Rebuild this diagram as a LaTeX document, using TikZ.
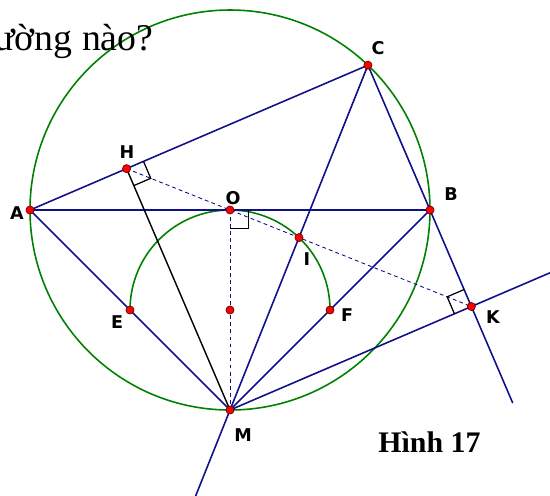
\documentclass[tikz,border=0pt]{standalone}
\usepackage{fontspec}
\setmainfont{Liberation Serif}
\newfontfamily\labfont{DejaVu Sans}
\usetikzlibrary{calc}
\definecolor{cLn}{HTML}{10108A}
\definecolor{cCi}{HTML}{008000}
\definecolor{cPt}{HTML}{FF0000}

\begin{document}
\begin{tikzpicture}[x=0.02cm,y=-0.02cm,
  ln/.style={cLn,line width=0.9pt},
  dsh/.style={cLn,line width=0.5pt,dash pattern=on 2.2pt off 1.8pt},
  crc/.style={cCi,line width=0.9pt},
  rt/.style={black,line width=0.7pt},
  pt/.style={circle,draw=red!45!black,fill=cPt,line width=0.4pt,inner sep=0pt,minimum size=4.6pt},
  lab/.style={font=\labfont\bfseries\fontsize{10}{12}\selectfont,inner sep=0pt}]
\clip (0,0) rectangle (550,495);
% ---------- points ----------
\coordinate (O) at (230,210);
\coordinate (A) at (30,210);
\coordinate (B) at (430,210);
\coordinate (C) at ($(O)+(-46.4:200)$);
\coordinate (M) at (230,410);
\coordinate (P) at (230,310);
\coordinate (E) at (130,310);
\coordinate (F) at (330,310);
\coordinate (H) at ($(A)!(M)!(C)$);
\coordinate (K) at ($(C)!(M)!(B)$);
\coordinate (I) at (intersection of H--K and C--M);
\coordinate (Cend) at ($(C)!1.25!(M)$);
\coordinate (Kend) at ($(C)!1.4!(K)$);
\coordinate (Mend) at ($(M)!1.4!(K)$);
% ---------- circles ----------
\draw[crc] (O) circle[radius=200];
\draw[crc] (E) arc[start angle=180,end angle=360,radius=100];
% ---------- lines ----------
\draw[ln] (A) -- (C) -- (B) -- cycle;
\draw[ln] (A) -- (M) -- (B);
\draw[ln] (C) -- (Cend);
\draw[ln] (B) -- (Kend);
\draw[ln] (M) -- (Mend);
\draw[black,line width=0.8pt] (H) -- (M);
\draw[dsh] (H) -- (K);
\draw[dsh] (O) -- (M);
% right angles
\foreach \p/\u/\v in {H/C/M,O/B/M,K/C/M}{
  \draw[rt] ($(\p)!10.5pt!(\u)$) -- ($(\p)!10.5pt!(\u)+(\p)!10.5pt!(\v)-(\p)$) -- ($(\p)!10.5pt!(\v)$);
}
% ---------- dots and labels ----------
\foreach \p in {A,B,C,O,H,I,K,M,E,F,P}{\node[pt] (d\p) at (\p) {};}
\node[lab] (lA) at (17,213) {A};
\node[lab] (lH) at (127,152) {H};
\node[lab] (lO) at (233,198) {O};
\node[lab] (lC) at (378,48) {C};
\node[lab] (lB) at (451,194) {B};
\node[lab] (lI) at (307,259) {I};
\node[lab] (lE) at (117,322) {E};
\node[lab] (lF) at (347,315) {F};
\node[lab] (lK) at (493,317) {K};
\node[lab] (lM) at (243,435) {M};
% ---------- texts ----------
\node[anchor=base west,inner sep=0pt,font=\fontsize{21.5}{24}\selectfont] (ttl) at (-6,50) {ường nào?};
\node[anchor=base west,inner sep=0pt,font=\bfseries\fontsize{17}{20}\selectfont] (fig) at (378,452) {Hình 17};
\end{tikzpicture}
\end{document}
